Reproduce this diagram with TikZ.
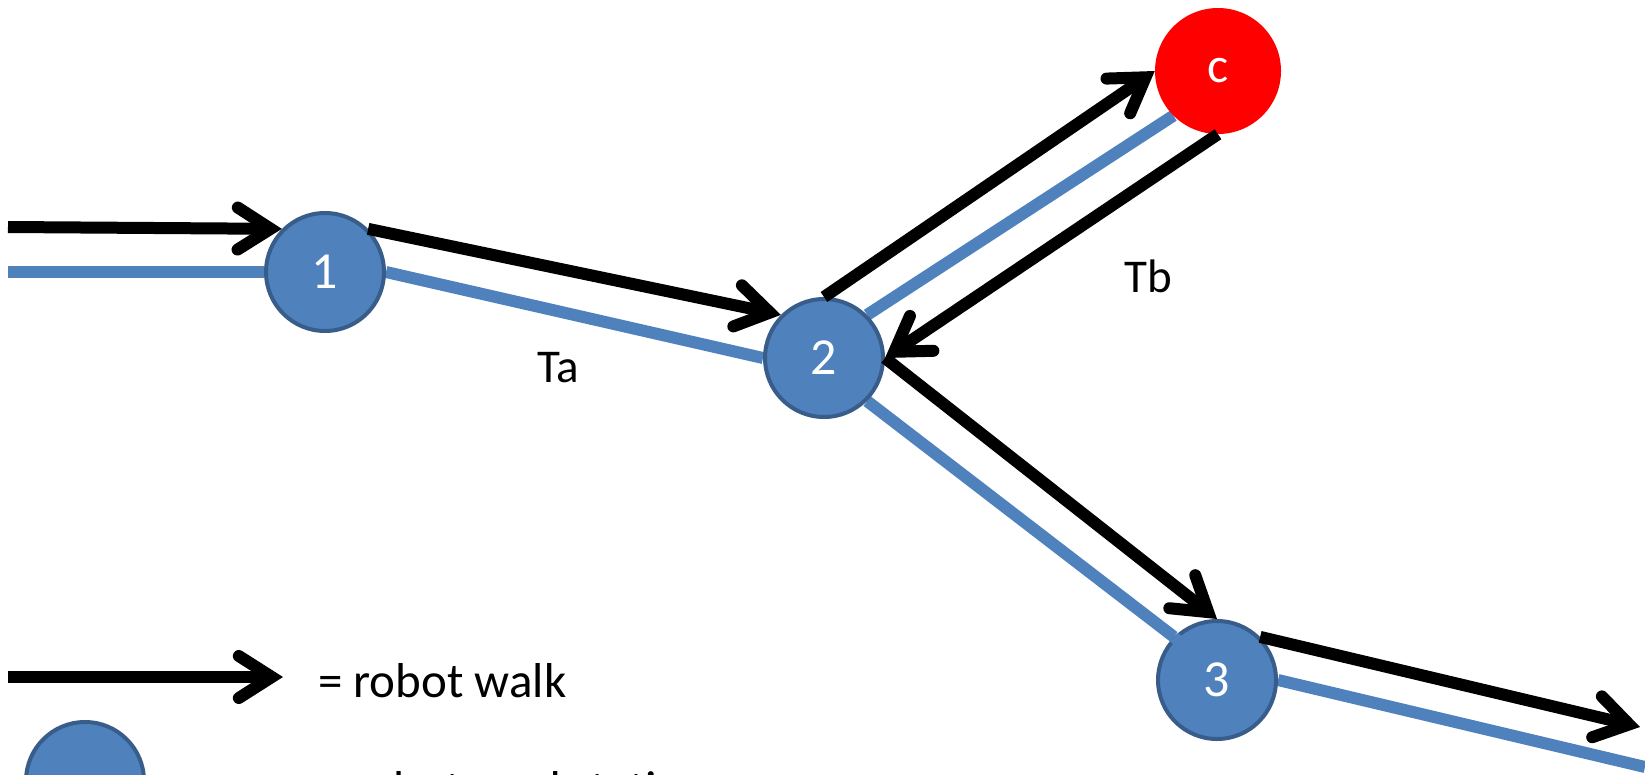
\documentclass[tikz,border=0pt]{standalone}
\usepackage{fontspec}
\setmainfont{Carlito}
\usetikzlibrary{arrows.meta,calc,backgrounds}
\definecolor{nodeblue}{HTML}{4F81BD}
\definecolor{nodeedge}{HTML}{385D8A}
\definecolor{roadblue}{HTML}{4F81BD}
\definecolor{chargered}{HTML}{FF0000}

\begin{document}
\begin{tikzpicture}[x=1pt,y=-1pt,
  every node/.style={font=\fontsize{47}{56}\selectfont},
  waypt/.style={circle, fill=nodeblue, draw=nodeedge, line width=4pt,
    minimum size=118pt, inner sep=0pt, text=white,
    font=\fontsize{52}{60}\selectfont},
  chargept/.style={circle, fill=chargered, minimum size=126pt,
    inner sep=0pt, text=white, font=\fontsize{50}{60}\selectfont},
  road/.style={draw=roadblue, line width=12pt},
  walk/.style={draw=black, line width=12pt,
    -{Straight Barb[length=33pt,width=42pt,line cap=round,line join=miter]}},
  lbl/.style={inner sep=0pt},
  keytext/.style={inner sep=0pt, anchor=base west,
    font=\fontsize{49}{58}\selectfont}]

\useasboundingbox (0,0) rectangle (1645,774);

% stations
\node[waypt] (n1) at (325,272) {1};
\node[waypt] (n2) at (824,358) {2};
\node[chargept] (c) at (1218,71) {c};
\node[waypt] (n3) at (1217,680) {3};

% free ends of the roads and walks
\coordinate (inW) at (8,227);
\coordinate (inB) at (8,272);
\coordinate (outW) at (1640,727);
\coordinate (outB) at (1645,767);

% roads, under the stations
\begin{scope}[on background layer]
  \draw[road] (inB) -- (n1.west);
  \draw[road] (n1.east) -- (n2.west);
  \draw[road] (n2.north east) -- (c.south west);
  \draw[road] (n2.south east) -- (n3.north west);
  \draw[road] (n3.east) -- (outB);
\end{scope}
\draw[road] (n3.north west) -- ($(n3.north west)!16pt!(n3.center)$);

% robot walk
\draw[walk] (inW) -- (n1.north west);
\draw[walk] (n1.north east) -- (n2.north west);
\draw[walk] (n2.north) -- (c.west);
\draw[walk] (c.south) -- (n2.east);
\draw[walk] (n2.east) -- (n3.north);
\draw[walk] (n3.north east) -- (outW);

% times
\node[lbl, anchor=base] (ta) at (558,382) {Ta};
\node[lbl, anchor=base] (tb) at (1148,292) {Tb};

% legend
\coordinate (keyA) at (8,677);
\coordinate (keyB) at (283,677);
\draw[walk] (keyA) -- (keyB);
\node[keytext] (keywalk) at (318,697) {= robot walk};
\node[waypt] (keynode) at (85,781) {};
\node[keytext] (keystop) at (316,805) {= robot workstation};
\end{tikzpicture}
\end{document}
